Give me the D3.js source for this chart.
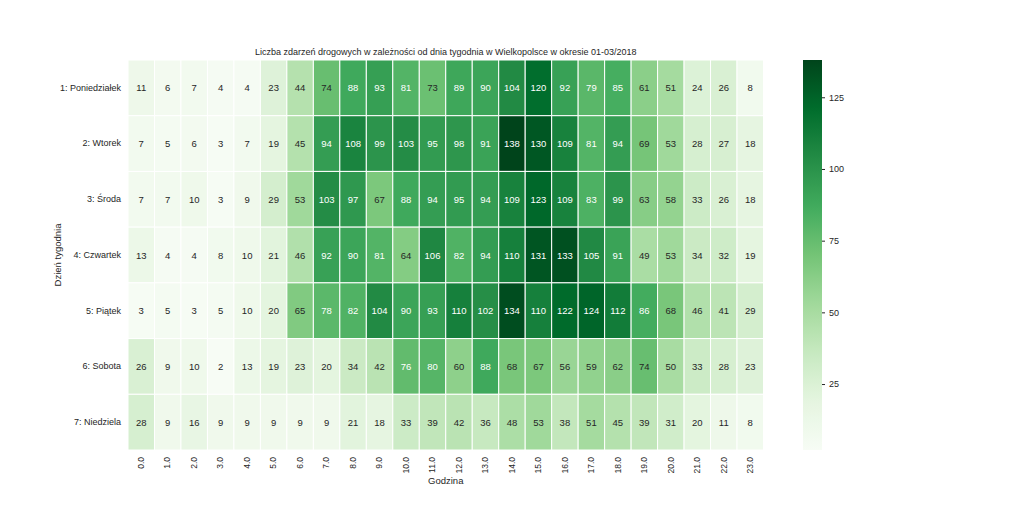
<!DOCTYPE html>
<html>
<head>
<meta charset="utf-8">
<script src="https://cdn.jsdelivr.net/npm/d3@7"></script>
<style>
  html, body { margin: 0; padding: 0; background: #fff; }
  svg { display: block; font-family: "Liberation Sans", Arial, sans-serif; }
</style>
</head>
<body>
<svg id="chart" width="1024" height="506"></svg>
<script>
const title = "Liczba zdarzeń drogowych w zależności od dnia tygodnia w Wielkopolsce w okresie 01-03/2018";
const xTitle = "Godzina";
const yTitle = "Dzień tygodnia";
const days = ["1: Poniedziałek", "2: Wtorek", "3: Środa", "4: Czwartek", "5: Piątek", "6: Sobota", "7: Niedziela"];
const hours = ["0.0","1.0","2.0","3.0","4.0","5.0","6.0","7.0","8.0","9.0","10.0","11.0","12.0","13.0","14.0","15.0","16.0","17.0","18.0","19.0","20.0","21.0","22.0","23.0"];
const monday    = [11, 6, 7, 4, 4, 23, 44, 74, 88, 93, 81, 73, 89, 90, 104, 120, 92, 79, 85, 61, 51, 24, 26, 8];
const tuesday   = [7, 5, 6, 3, 7, 19, 45, 94, 108, 99, 103, 95, 98, 91, 138, 130, 109, 81, 94, 69, 53, 28, 27, 18];
const wednesday = [7, 7, 10, 3, 9, 29, 53, 103, 97, 67, 88, 94, 95, 94, 109, 123, 109, 83, 99, 63, 58, 33, 26, 18];
const thursday  = [13, 4, 4, 8, 10, 21, 46, 92, 90, 81, 64, 106, 82, 94, 110, 131, 133, 105, 91, 49, 53, 34, 32, 19];
const friday    = [3, 5, 3, 5, 10, 20, 65, 78, 82, 104, 90, 93, 110, 102, 134, 110, 122, 124, 112, 86, 68, 46, 41, 29];
const saturday  = [26, 9, 10, 2, 13, 19, 23, 20, 34, 42, 76, 80, 60, 88, 68, 67, 56, 59, 62, 74, 50, 33, 28, 23];
const sunday    = [28, 9, 16, 9, 9, 9, 9, 9, 21, 18, 33, 39, 42, 36, 48, 53, 38, 51, 45, 39, 31, 20, 11, 8];
const colorbarTicks = [25, 50, 75, 100, 125];
const greens = ["#f7fcf5", "#e5f5e0", "#c7e9c0", "#a1d99b", "#74c476", "#41ab5d", "#238b45", "#006d2c", "#00441b"];

const rows = [monday, tuesday, wednesday, thursday, friday, saturday, sunday];
const cells = [];
rows.forEach((r, i) => r.forEach((v, j) => cells.push({day: days[i], hour: hours[j], value: v})));

const vmin = d3.min(cells, d => d.value), vmax = d3.max(cells, d => d.value);
const cmap = d3.scaleLinear().domain(greens.map((c, i) => i / (greens.length - 1)))
  .range(greens).interpolate(d3.interpolateRgb).clamp(true);
const norm = d3.scaleLinear().domain([vmin, vmax]).range([0, 1]).clamp(true);
// quantise to 256 levels like a matplotlib colormap
const color = v => {
  const idx = Math.min(255, Math.floor(norm(v) * 256));
  return cmap(idx / 255);
};

const svg = d3.select("#chart");
const mLeft = 128, mRight = 763.5, mTop = 60, mBottom = 450;
const x = d3.scaleBand().domain(hours).range([mLeft, mRight]);
const y = d3.scaleBand().domain(days).range([mTop, mBottom]);

function lum(c) {
  const rgb = d3.rgb(c);
  const f = v => { v /= 255; return v <= 0.03928 ? v / 12.92 : Math.pow((v + 0.055) / 1.055, 2.4); };
  return 0.2126 * f(rgb.r) + 0.7152 * f(rgb.g) + 0.0722 * f(rgb.b);
}

svg.append("g").selectAll("rect").data(cells).join("rect")
  .attr("x", d => x(d.hour)).attr("y", d => y(d.day))
  .attr("width", x.bandwidth()).attr("height", y.bandwidth())
  .attr("fill", d => color(d.value))
  .attr("stroke", "#fff").attr("stroke-width", 1);

svg.append("g").selectAll("text").data(cells).join("text")
  .attr("x", d => x(d.hour) + x.bandwidth() / 2)
  .attr("y", d => y(d.day) + y.bandwidth() / 2)
  .attr("text-anchor", "middle").attr("dominant-baseline", "central")
  .attr("font-size", 9.5)
  .attr("fill", d => lum(color(d.value)) > 0.408 ? "#262626" : "#ffffff")
  .text(d => d.value);

// X axis
const xAxis = svg.append("g").attr("transform", `translate(0,${mBottom})`)
  .call(d3.axisBottom(x).tickSize(0).tickPadding(0));
xAxis.select(".domain").remove();
xAxis.selectAll("text")
  .attr("font-size", 8.5).attr("fill", "#262626")
  .attr("transform", "rotate(-90)")
  .attr("x", -7).attr("y", 0).attr("dy", "0.32em")
  .attr("text-anchor", "end");

// Y axis
const yAxis = svg.append("g").attr("transform", `translate(${mLeft},0)`)
  .call(d3.axisLeft(y).tickSize(0).tickPadding(7));
yAxis.select(".domain").remove();
yAxis.selectAll("text").attr("font-size", 9).attr("fill", "#262626");

svg.selectAll(".tick text").attr("font-family", "Liberation Sans, Arial, sans-serif");

svg.append("text").attr("x", (mLeft + mRight) / 2).attr("y", 55)
  .attr("text-anchor", "middle").attr("font-size", 9).attr("fill", "#262626").text(title);
svg.append("text").attr("x", (mLeft + mRight) / 2).attr("y", 484)
  .attr("text-anchor", "middle").attr("font-size", 9.5).attr("fill", "#262626").text(xTitle);
svg.append("text").attr("transform", `translate(61,${(mTop + mBottom) / 2}) rotate(-90)`)
  .attr("text-anchor", "middle").attr("font-size", 9.5).attr("fill", "#262626").text(yTitle);

// Colorbar
const cbX = 803, cbW = 19;
const cbScale = d3.scaleLinear().domain([vmin, vmax]).range([mBottom, mTop]);
const defs = svg.append("defs");
const grad = defs.append("linearGradient").attr("id", "cbgrad")
  .attr("x1", 0).attr("y1", 1).attr("x2", 0).attr("y2", 0);
grad.selectAll("stop").data(d3.range(0, 1.0001, 0.02)).join("stop")
  .attr("offset", d => d).attr("stop-color", d => cmap(d));
svg.append("rect").attr("x", cbX).attr("y", mTop).attr("width", cbW).attr("height", mBottom - mTop)
  .attr("fill", "url(#cbgrad)");
const cbAxis = svg.append("g").attr("transform", `translate(${cbX + cbW},0)`)
  .call(d3.axisRight(cbScale).tickValues(colorbarTicks).tickSize(3).tickPadding(4));
cbAxis.select(".domain").remove();
cbAxis.selectAll("line").attr("stroke", "#262626");
cbAxis.selectAll("text").attr("font-size", 9).attr("fill", "#262626").attr("font-family", "Liberation Sans, Arial, sans-serif");
</script>
</body>
</html>
